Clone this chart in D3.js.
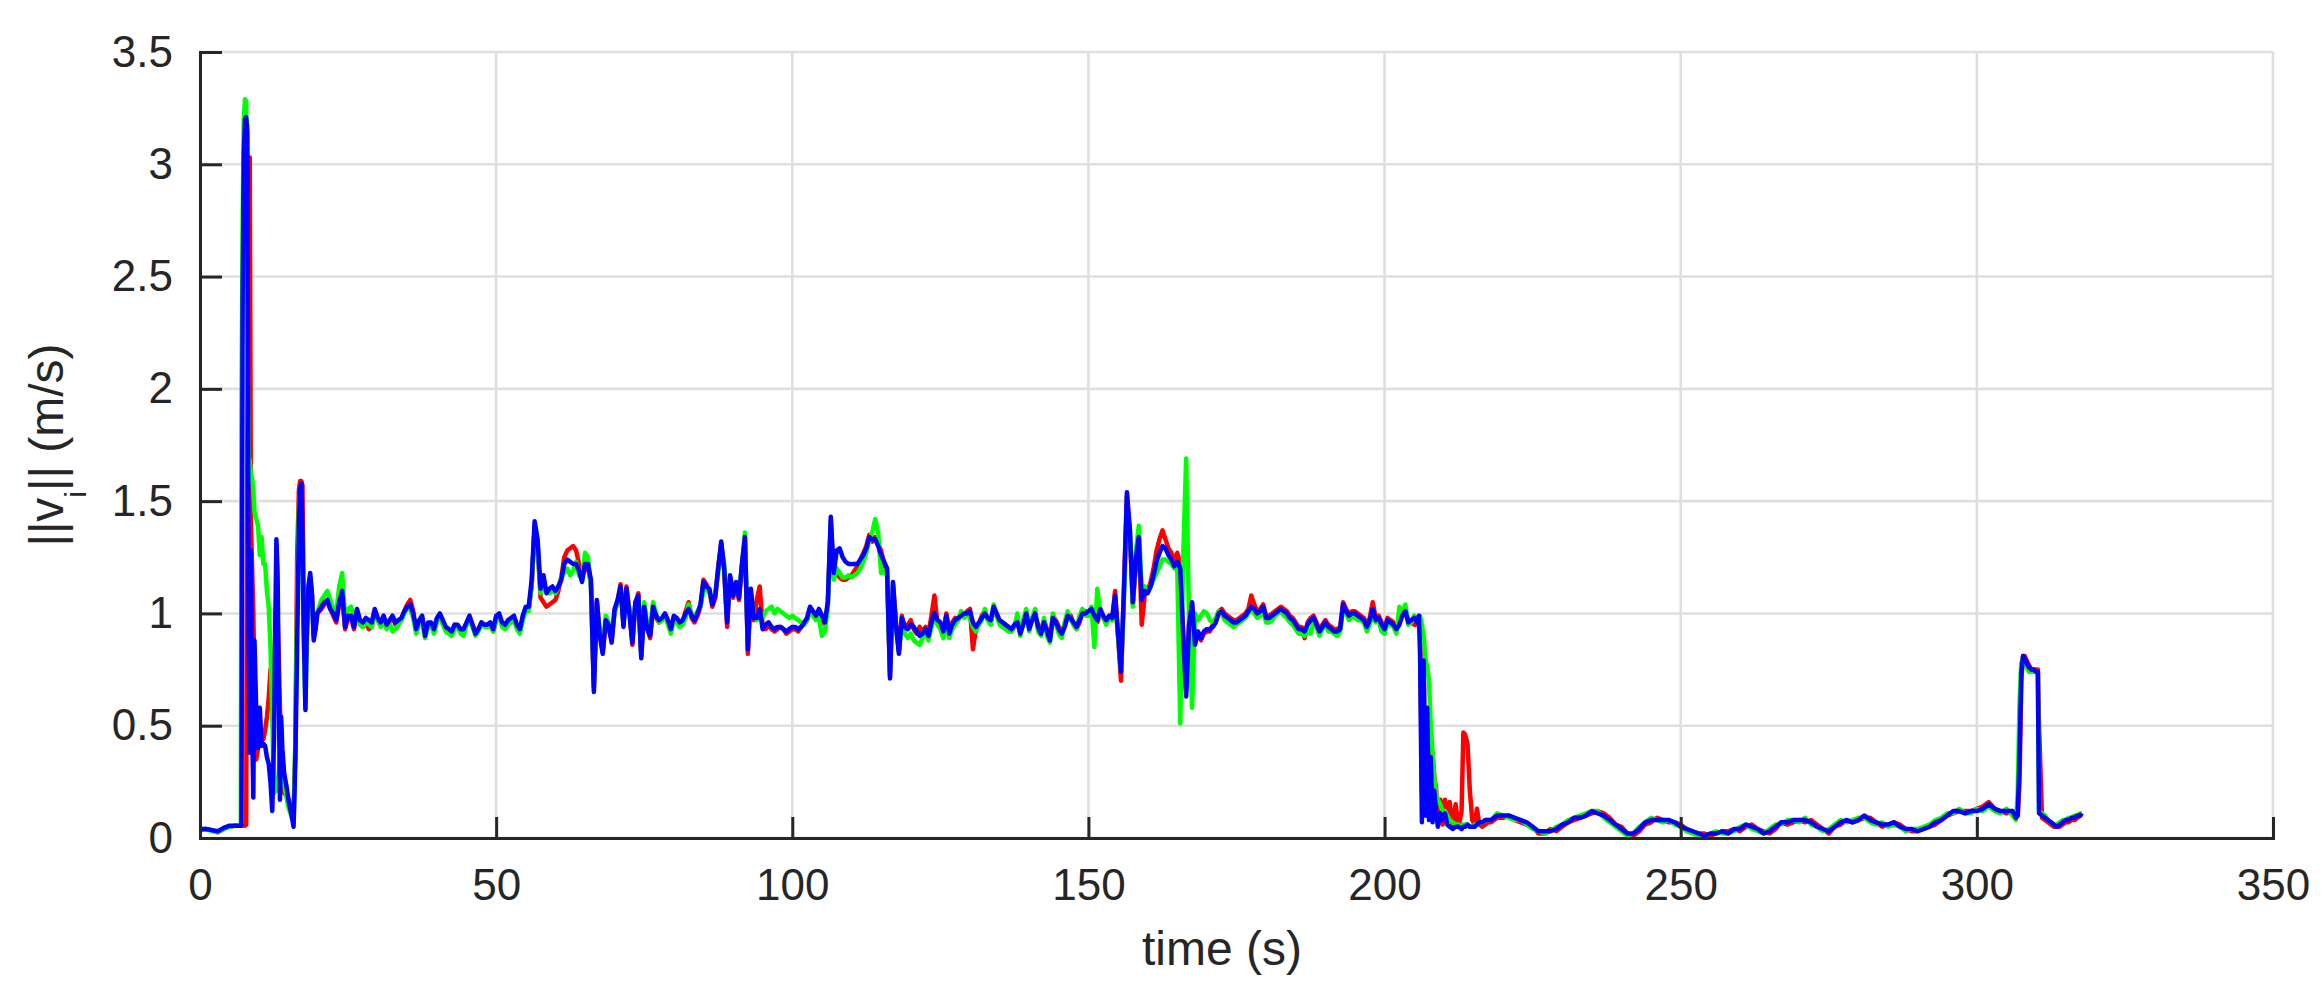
<!DOCTYPE html>
<html><head><meta charset="utf-8">
<script src="https://cdn.jsdelivr.net/npm/d3@7"></script>
<style>
body{margin:0;background:#fff}
svg{display:block}
text{font-family:"Liberation Sans",Arial,Helvetica,sans-serif;fill:#262626}
</style>
</head><body>
<svg id="chart" width="2322" height="986"></svg>
<script>
// ---- tick values and labels ----
const xTicks = [0, 50, 100, 150, 200, 250, 300, 350];
const xTickLabels = ["0", "50", "100", "150", "200", "250", "300", "350"];
const yTicks = [0, 0.5, 1, 1.5, 2, 2.5, 3, 3.5];
const yTickLabels = ["0", "0.5", "1", "1.5", "2", "2.5", "3", "3.5"];
const xLabel = "time (s)";
const seriesNames = ["red", "green", "blue"];
const seriesColors = ["#ff0000", "#00ff00", "#0000ff"];

// ---- sample times (s) ----
const time = [].concat(
  [0, 1, 2, 3, 4, 5, 6, 6.9],
  [7.0,7.2,7.4,7.6,7.8,8.0,8.2,8.4,8.6,8.8,9.0,9.2,9.5,9.8,10.1,10.4,10.7,11.0,11.3,11.6,
   11.9,12.2,12.5,12.7,12.9,13.1,13.3,13.5,13.7,13.9,14.2,14.6,15.0,15.4,15.8,16.1,16.4,16.7,16.9,17.1,
   17.3,17.5,17.8,18.0,18.3,18.6,18.9,19.2,19.5,19.8],
  d3.range(20.5, 55.01, 0.5),
  d3.range(55.5, 118.01, 0.5),
  d3.range(118.5, 185.51, 0.5),
  d3.range(186, 205.51, 0.5),
  [205.8,206.0,206.3,206.6,206.9,207.2,207.5,207.8,208.1,208.4,208.7,209.0,209.4,209.8,210.2,210.6,211.0,
   211.5,212.0,212.5,213.0,213.3,213.6,214.0,214.4,214.8,215.2,215.6,216.0,216.5,217.0,217.5,218.0],
  d3.range(219, 306.01, 1),
  [306.6,306.9,307.2,307.5,307.8,308.1,308.4,308.8,309.2,309.6,310.0,310.3,310.5,311.0,311.5,312.0,
   312.5,313.0,313.5,314.0,314.5,315.0,315.5,316.0,316.5,317.0,317.5,317.7]
);

// ---- speed of each vehicle ||v_i|| (m/s) ----
const speedRed = [].concat(
  [.035,.040,.035,.025,.040,.050,.055,.055],
  [.055,.055,.055,.055,.06,1.85,2.90,3.03,1.40,1.20,1.00,.70,.35,.40,.44,.47,.44,.48,.54,.62,
   .75,.70,.64,.90,1.05,.99,.80,.58,.40,.21,.20,.19,.17,.12,.09,.40,1.25,1.55,1.59,1.59,
   1.57,1.03,.73,.88,1.10,1.16,1.08,.90,.93,1.00],
  [1.02,1.04,1.05,1.02,0.99,0.96,1.04,1.08,0.93,0.98,
   0.98,0.93,1.01,0.96,0.94,0.96,0.93,0.94,1.01,0.97,
   0.95,0.98,0.95,0.96,0.98,0.95,0.96,0.97,1.01,1.04,
   1.06,1.01,0.92,0.96,0.98,0.91,0.95,0.95,0.92,0.97,
   0.99,0.96,0.93,0.93,0.91,0.95,0.94,0.92,0.93,0.95,
   0.98,0.95,0.92,0.93,0.95,0.95,0.94,0.95,0.92,0.97,
   0.99,0.95,0.94,0.96,0.97,0.98,0.94,0.92,0.98,1.02],
  [1.02,1.12,1.39,1.30,1.07,1.05,1.03,1.04,1.05,
   1.06,1.10,1.16,1.25,1.28,1.29,1.30,1.28,1.22,1.16,
   1.20,1.21,1.13,0.67,1.05,0.91,0.83,0.96,0.93,0.88,
   1.01,1.05,1.13,0.95,1.12,1.01,0.86,1.04,1.09,0.81,
   1.04,0.94,0.89,1.04,0.98,0.96,0.97,0.99,0.96,0.92,
   0.98,0.97,0.95,0.96,1.01,1.05,0.98,0.96,0.99,1.03,
   1.15,1.13,1.10,1.03,1.07,1.21,1.31,1.19,0.94,1.16,
   1.07,1.13,1.06,1.21,1.33,0.82,1.09,0.97,1.06,1.12,
   0.94,0.93,0.95,0.93,0.92,0.93,0.94,0.93,0.91,0.92,
   0.93,0.93,0.92,0.94,0.95,0.97,1.02,1.00,0.98,1.01,
   0.97,0.95,1.04,1.41,1.16,1.18,1.16,1.15,1.15,1.16,
   1.17,1.19,1.21,1.24,1.27,1.30,1.35,1.32,1.34,1.31,
   1.28,1.22,1.19,0.72,1.13,0.96,0.83],
  [0.99,0.93,0.95,
   0.97,0.93,0.91,0.94,0.92,0.94,0.91,0.99,1.08,0.96,
   0.95,0.90,1.00,0.93,0.96,0.98,0.97,1.00,0.99,1.01,
   1.02,0.84,0.93,0.95,0.99,1.01,0.97,0.96,1.02,0.99,
   0.96,0.95,0.94,0.93,0.92,0.94,0.97,0.92,0.96,1.01,
   0.94,0.98,0.99,0.95,0.92,0.97,0.93,0.89,0.99,0.97,
   0.94,0.92,0.95,0.98,0.99,0.95,0.93,0.96,1.01,1.01,
   1.00,1.01,0.98,0.96,1.01,0.98,0.96,0.98,0.97,1.10,
   0.90,0.70,1.12,1.52,1.35,1.04,1.22,1.35,0.95,1.08,
   1.10,1.14,1.20,1.28,1.33,1.37,1.33,1.29,1.27,1.24,
   1.27,1.22,0.91,0.66,0.97,1.04,0.87,0.91,0.88,0.91,
   0.92,0.92,0.95,0.97,1.01,1.02,1.00,0.99,0.98,0.97,
   0.97,0.98,0.99,1.00,1.02,1.08,1.04,1.01,1.02,1.04,
   0.99,0.99,1.00,1.01,1.02,1.03,1.02,1.01,0.99,0.98,0.96,0.94],
  [0.94,0.89,0.96,0.98,0.99,0.96,0.93,0.95,0.97,0.95,
   0.94,0.93,0.93,0.94,1.05,1.02,1.00,1.01,1.01,1.00,
   0.99,0.98,0.95,0.98,1.05,0.98,0.99,0.96,0.94,0.98,
   0.97,0.96,0.94,0.96,1.00,1.02,0.97,0.96,0.95,0.95],
  [.97,.95,.20,.75,.15,.55,.12,.40,.38,.27,.22,.08,.17,.06,.17,.07,.16,.05,.15,.05,.12,
   .47,.46,.42,.21,.08,.06,.13,.06,.05,.06,.07,.07],
  [.09,.09,.10,.08,.07,.06,.05,.02,.02,.04,
   .03,.05,.07,.08,.09,.10,.11,.12,.11,.09,
   .06,.05,.02,.01,.03,.06,.07,.09,.08,.07,
   .07,.06,.04,.03,.02,.02,.01,.02,.03,.03,
   .04,.03,.05,.06,.04,.03,.02,.04,.07,.06,
   .07,.08,.07,.08,.06,.04,.02,.05,.06,.08,
   .07,.08,.09,.09,.07,.05,.06,.07,.06,.04,
   .03,.03,.04,.05,.06,.08,.10,.11,.12,.12,
   .12,.13,.14,.16,.13,.12,.11,.12],
  [.10,.10,.25,.70,.81,.81,.79,.77,.75,.75,.75,.75,.50,.09,.08,.07,.06,.05,.05,.05,.06,.07,.07,.08,.08,.09,.10,.10]
);

const speedGreen = [].concat(
  [.040,.040,.030,.025,.040,.050,.055,.055],
  [1.90,2.75,3.20,3.29,3.28,2.30,1.70,1.68,1.62,1.60,1.55,1.45,1.42,1.39,1.26,1.34,1.22,1.22,1.10,1.03,
   .85,.54,.20,.21,.21,.25,.29,.35,.39,.30,.24,.18,.13,.10,.08,.44,1.03,1.48,1.53,1.53,
   1.18,.90,.58,.85,1.10,1.16,1.08,.90,.94,1.00],
  [1.06,1.08,1.10,1.06,1.02,1.00,1.12,1.18,0.98,1.02,
   1.03,0.99,1.01,0.95,0.94,0.96,0.95,0.94,1.00,0.97,
   0.94,0.97,0.93,0.96,0.92,0.93,0.95,0.97,1.00,1.02,
   1.02,0.98,0.91,0.95,0.97,0.89,0.94,0.95,0.91,0.96,
   0.99,0.95,0.92,0.91,0.90,0.93,0.94,0.91,0.90,0.95,
   0.97,0.94,0.90,0.92,0.95,0.94,0.94,0.95,0.92,0.97,
   0.99,0.94,0.93,0.95,0.96,0.97,0.93,0.91,0.97,1.01],
  [1.01,1.13,1.38,1.30,1.09,1.11,1.10,1.09,1.10,
   1.09,1.12,1.16,1.18,1.20,1.17,1.19,1.23,1.17,1.15,
   1.27,1.25,1.12,0.70,1.03,0.92,0.85,0.99,0.96,0.90,
   1.00,1.05,1.10,0.96,1.09,1.02,0.90,1.04,1.06,0.83,
   1.05,0.95,0.92,1.05,1.00,0.96,0.97,0.99,0.95,0.91,
   0.97,0.96,0.94,0.95,0.98,1.04,1.00,0.98,1.01,1.03,
   1.10,1.11,1.09,1.06,1.09,1.18,1.30,1.22,0.98,1.15,
   1.10,1.13,1.09,1.21,1.36,0.87,1.08,1.00,0.97,0.99,
   0.98,1.01,1.02,1.03,1.00,1.02,1.01,1.00,0.99,0.98,
   0.99,0.98,0.97,0.96,0.95,0.97,1.01,0.99,0.97,0.98,
   0.90,0.92,1.03,1.40,1.15,1.20,1.18,1.16,1.16,1.17,
   1.16,1.17,1.18,1.20,1.23,1.27,1.33,1.36,1.42,1.36,
   1.18,1.19,1.17,0.74,1.12,0.93,0.84],
  [0.96,0.91,0.89,
   0.91,0.88,0.87,0.86,0.89,0.92,0.88,0.94,0.98,0.95,
   0.93,0.89,0.96,0.89,0.93,0.95,0.97,1.01,0.98,1.00,
   0.98,0.94,0.92,0.95,0.97,1.02,0.97,0.95,1.04,0.99,
   0.95,0.94,0.93,0.92,0.92,0.94,1.00,0.90,0.97,1.02,
   0.92,0.98,1.02,0.92,0.90,0.98,0.90,0.87,1.00,0.95,
   0.91,0.89,0.96,1.01,0.97,0.95,0.93,0.99,1.02,0.99,
   0.99,1.03,0.85,1.11,1.00,0.98,0.95,0.98,0.97,1.05,
   0.90,0.75,1.07,1.45,1.38,1.03,1.27,1.39,1.10,1.12,
   1.10,1.12,1.15,1.18,1.21,1.24,1.24,1.23,1.22,1.20,
   1.20,0.51,1.25,1.69,0.95,0.58,1.00,0.97,0.99,1.01,
   1.00,0.97,0.96,0.98,1.01,1.00,0.97,0.96,0.95,0.94,
   0.95,0.96,0.97,0.98,1.00,1.02,1.00,0.98,0.99,1.01,
   0.96,0.96,0.97,0.99,1.00,1.01,0.99,0.98,0.96,0.95,0.93,0.91],
  [0.91,0.90,0.93,0.91,0.96,0.94,0.90,0.93,0.95,0.92,
   0.92,0.91,0.90,0.92,1.02,1.00,0.97,0.99,0.98,0.97,
   0.97,0.96,0.92,0.95,1.00,0.96,0.97,0.92,0.91,0.96,
   0.95,0.94,0.91,1.03,1.00,1.04,0.95,0.96,0.99,0.97],
  [.99,.99,.95,.90,.80,.76,.70,.50,.38,.26,.20,.17,.15,.12,.12,.10,.08,.07,.06,.06,.05,
   .06,.06,.06,.05,.05,.06,.06,.07,.07,.08,.08,.08],
  [.11,.10,.09,.08,.08,.06,.04,.03,.02,.03,
   .05,.06,.08,.09,.10,.11,.12,.12,.09,.07,
   .05,.03,.01,.02,.05,.07,.09,.08,.07,.08,
   .06,.05,.03,.02,.01,.01,.02,.03,.02,.02,
   .03,.05,.06,.04,.03,.02,.04,.06,.06,.08,
   .08,.07,.09,.06,.05,.03,.04,.06,.08,.07,
   .08,.09,.09,.07,.06,.07,.05,.06,.05,.03,
   .04,.04,.05,.06,.08,.09,.11,.11,.13,.11,
   .11,.13,.12,.14,.12,.11,.13,.10],
  [.08,.20,.60,.78,.80,.79,.76,.74,.74,.74,.74,.73,.12,.11,.10,.08,.07,.06,.06,.07,.08,.08,.09,.09,.10,.10,.11,.11]
);

const speedBlue = [].concat(
  [.040,.040,.035,.030,.045,.055,.055,.055],
  [.06,2.40,3.05,3.20,3.21,3.15,.90,.38,1.28,.50,.18,.88,.56,.40,.58,.41,.42,.41,.36,.33,
   .25,.12,.45,.94,1.33,1.18,.66,.17,.54,.40,.29,.23,.16,.11,.05,.35,.85,1.40,1.55,1.58,
   1.36,.96,.57,.88,1.12,1.18,1.09,.88,.93,1.00],
  [1.03,1.05,1.06,1.02,1.00,0.97,1.05,1.10,0.94,0.99,
   0.99,0.94,1.02,0.97,0.96,0.98,0.97,0.96,1.02,0.98,
   0.96,0.99,0.95,0.97,0.99,0.96,0.97,0.98,1.01,1.03,
   1.04,1.00,0.93,0.97,0.99,0.90,0.96,0.96,0.93,0.98,
   1.00,0.97,0.94,0.93,0.92,0.95,0.95,0.93,0.93,0.96,
   0.99,0.95,0.91,0.93,0.96,0.95,0.95,0.96,0.93,0.99,
   1.00,0.96,0.95,0.97,0.98,0.99,0.95,0.93,0.99,1.03],
  [1.03,1.15,1.41,1.33,1.11,1.17,1.09,1.11,1.12,
   1.10,1.12,1.15,1.22,1.24,1.23,1.22,1.22,1.19,1.14,
   1.22,1.22,1.15,0.65,1.06,0.90,0.82,0.97,0.95,0.87,
   1.02,1.06,1.12,0.94,1.11,1.00,0.87,1.05,1.08,0.80,
   1.03,0.93,0.90,1.03,0.99,0.97,0.98,1.00,0.97,0.93,
   0.99,0.98,0.96,0.97,1.00,1.02,0.99,0.97,1.00,1.04,
   1.14,1.12,1.11,1.04,1.08,1.20,1.32,1.20,0.96,1.17,
   1.08,1.14,1.07,1.22,1.34,0.84,1.11,0.98,0.98,1.02,
   0.93,0.95,0.96,0.94,0.93,0.94,0.94,0.93,0.92,0.93,
   0.94,0.94,0.93,0.94,0.96,0.98,1.03,1.01,0.99,1.02,
   0.99,0.96,1.05,1.43,1.18,1.28,1.29,1.25,1.23,1.22,
   1.22,1.22,1.22,1.24,1.26,1.29,1.34,1.33,1.33,1.30,
   1.26,1.23,1.20,0.71,1.14,0.95,0.82],
  [0.98,0.94,0.93,
   0.95,0.94,0.92,0.90,0.91,0.93,0.90,0.96,1.00,0.97,
   0.96,0.92,0.99,0.91,0.95,0.97,0.98,0.99,1.00,1.00,
   1.01,0.96,0.94,0.96,0.98,1.00,0.98,0.97,1.03,1.00,
   0.97,0.96,0.95,0.94,0.93,0.95,0.96,0.91,0.95,1.00,
   0.93,0.97,1.00,0.94,0.91,0.96,0.92,0.88,0.98,0.96,
   0.93,0.91,0.94,0.99,0.98,0.96,0.94,0.97,1.00,1.00,
   1.01,1.02,0.99,0.97,1.02,0.99,0.97,0.99,0.98,1.08,
   0.91,0.74,1.10,1.54,1.37,1.05,1.24,1.34,1.06,1.10,
   1.09,1.12,1.17,1.23,1.27,1.30,1.29,1.26,1.24,1.21,
   1.23,1.20,0.90,0.63,0.95,1.05,0.86,0.92,0.89,0.92,
   0.93,0.93,0.94,0.96,1.00,1.01,0.99,0.98,0.97,0.96,
   0.96,0.97,0.98,0.99,1.01,1.03,1.02,1.00,1.01,1.03,
   0.98,0.98,0.99,1.00,1.01,1.02,1.01,1.00,0.98,0.97,0.95,0.93],
  [0.93,0.92,0.95,0.97,0.98,0.95,0.92,0.94,0.96,0.94,
   0.93,0.92,0.92,0.93,1.04,1.01,0.99,1.00,1.00,0.99,
   0.98,0.97,0.94,0.97,1.02,0.97,0.98,0.95,0.93,0.97,
   0.96,0.95,0.93,0.95,0.99,1.01,0.96,0.97,0.98,0.96],
  [.99,.81,.07,.79,.10,.58,.08,.36,.07,.21,.12,.05,.11,.08,.11,.06,.05,.04,.05,.05,.04,
   .05,.05,.06,.05,.05,.05,.06,.07,.07,.08,.08,.08],
  [.10,.10,.10,.09,.08,.07,.05,.03,.03,.03,
   .04,.06,.07,.09,.09,.10,.12,.11,.10,.08,
   .06,.04,.02,.02,.04,.07,.08,.08,.08,.08,
   .07,.05,.04,.03,.02,.01,.02,.02,.03,.02,
   .04,.04,.06,.05,.04,.02,.03,.05,.07,.07,
   .08,.08,.08,.07,.05,.04,.03,.05,.07,.08,
   .07,.08,.10,.08,.07,.06,.06,.07,.05,.04,
   .04,.03,.04,.05,.07,.08,.10,.12,.12,.11,
   .12,.12,.13,.15,.13,.12,.12,.12],
  [.09,.10,.35,.73,.81,.80,.78,.76,.75,.75,.74,.74,.11,.10,.09,.08,.07,.06,.05,.06,.07,.08,.08,.09,.09,.10,.10,.11]
);

// ---- layout ----
const plot = {left: 200, right: 2273, top: 52, bottom: 838};
const axisColor = "#262626", gridColor = "#dfdfdf";

const svg = d3.select("#chart");
const x = d3.scaleLinear().domain([0, 350]).range([plot.left, plot.right]);
const y = d3.scaleLinear().domain([0, 3.5]).range([plot.bottom, plot.top]);

// grid
const grid = svg.append("g");
grid.selectAll("line.gx").data(xTicks).join("line")
  .attr("x1", d => x(d)).attr("x2", d => x(d))
  .attr("y1", y(0)).attr("y2", y(3.5))
  .attr("stroke", gridColor).attr("stroke-width", 2.6);
grid.selectAll("line.gy").data(yTicks).join("line")
  .attr("y1", d => y(d)).attr("y2", d => y(d))
  .attr("x1", x(0)).attr("x2", x(350))
  .attr("stroke", gridColor).attr("stroke-width", 2.6);

// data lines
const seriesValues = [speedRed, speedGreen, speedBlue];
const line = d3.line().x(d => x(d[0])).y(d => y(d[1]));
seriesValues.forEach((vals, k) => {
  const n = Math.min(vals.length, time.length);
  const pts = [];
  for (let i = 0; i < n; i++) pts.push([time[i], vals[i]]);
  svg.append("path")
    .datum(pts)
    .attr("d", line)
    .attr("fill", "none")
    .attr("stroke", seriesColors[k])
    .attr("stroke-width", 4.5)
    .attr("stroke-linejoin", "round")
    .attr("data-series", seriesNames[k]);
});

// axes
const fs = 44;
const xAxis = d3.axisBottom(x).tickValues(xTicks)
  .tickFormat((d, i) => xTickLabels[i]).tickSizeInner(-21).tickSizeOuter(0).tickPadding(31);
const yAxis = d3.axisLeft(y).tickValues(yTicks)
  .tickFormat((d, i) => yTickLabels[i]).tickSizeInner(-22).tickSizeOuter(0).tickPadding(27);

const gx = svg.append("g").attr("transform", `translate(0,${plot.bottom})`).call(xAxis);
const gy = svg.append("g").attr("transform", `translate(${plot.left},0)`).call(yAxis);
[gx, gy].forEach(g => {
  g.attr("font-family", null).attr("font-size", null);
  g.selectAll("path.domain").attr("stroke", axisColor).attr("stroke-width", 3).attr("stroke-linecap", "square");
  g.selectAll(".tick line").attr("stroke", axisColor).attr("stroke-width", 3);
  g.selectAll(".tick text").attr("fill", axisColor).style("font-size", fs + "px");
});

// axis titles
svg.append("text")
  .attr("x", 1222).attr("y", 965)
  .attr("text-anchor", "middle")
  .style("font-size", "48px")
  .text(xLabel);

const yl = svg.append("text")
  .attr("transform", "translate(63,445) rotate(-90)")
  .attr("text-anchor", "middle")
  .style("font-size", "48px");
yl.append("tspan").text("||v");
yl.append("tspan").attr("dy", 23).style("font-size", "30px").text("i");
yl.append("tspan").attr("dy", -23).text("|| (m/s)");
</script>
</body></html>
